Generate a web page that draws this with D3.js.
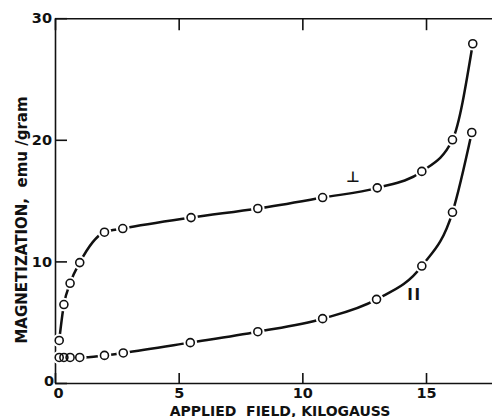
<!DOCTYPE html>
<html>
<head>
<meta charset="utf-8">
<script src="https://cdn.jsdelivr.net/npm/d3@7/dist/d3.min.js"></script>
<style>
  html, body { margin: 0; padding: 0; background: #fff; }
  svg { display: block; }
  text { font-family: "DejaVu Sans", sans-serif; fill: #111; }
</style>
</head>
<body>
<svg id="chart" width="492" height="417"></svg>
<script>
// Applied field (kilogauss)
const perpField = [0.17, 0.36, 0.61, 1.0, 2.0, 2.74, 5.5, 8.2, 10.82, 13.03, 14.83, 16.07, 16.89];
// Magnetization (emu/gram), field perpendicular
const perpMag   = [3.5, 6.45, 8.2, 9.9, 12.4, 12.7, 13.6, 14.35, 15.25, 16.05, 17.4, 20.0, 27.9];

const paraField = [0.17, 0.36, 0.61, 1.0, 2.0, 2.76, 5.47, 8.2, 10.82, 13.0, 14.83, 16.07, 16.85];
// Magnetization (emu/gram), field parallel
const paraMag   = [2.1, 2.1, 2.1, 2.1, 2.27, 2.47, 3.32, 4.22, 5.29, 6.88, 9.62, 14.04, 20.6];

const xTicks = [0, 5, 10, 15];
const yTicks = [0, 10, 20, 30];
const xTitle = "APPLIED  FIELD, KILOGAUSS";
const yTitle = "MAGNETIZATION,  emu /gram";
const perpLabel = "\u22A5";
const paraLabel = "II";

const svg = d3.select("#chart");
const x = d3.scaleLinear().domain([0, 17.7]).range([55, 492.8]);
const y = d3.scaleLinear().domain([0, 30]).range([383, 18.2]);

const axisStroke = 1.6;

// bottom axis
const gx = svg.append("g").attr("transform", `translate(0,${y(0)})`)
  .call(d3.axisBottom(x).tickValues(xTicks).tickSizeInner(-10).tickSizeOuter(0).tickPadding(5)
    .tickFormat(d3.format("d")));
// top axis
const gt = svg.append("g").attr("transform", `translate(0,${y(30)})`)
  .call(d3.axisTop(x).tickValues(xTicks).tickSizeInner(-12).tickSizeOuter(0).tickFormat(""));
// left axis
const gy = svg.append("g").attr("transform", `translate(${x(0)},0)`)
  .call(d3.axisLeft(y).tickValues(yTicks).tickSizeInner(-12).tickSizeOuter(0).tickPadding(3)
    .tickFormat(d3.format("d")));

[gx, gt, gy].forEach(g => {
  g.select(".domain").attr("stroke", "#111").attr("stroke-width", axisStroke);
  g.selectAll(".tick line").attr("stroke", "#111").attr("stroke-width", axisStroke);
  g.selectAll("text").style("font-family", '"DejaVu Sans", sans-serif')
    .style("font-size", "14.5px").style("font-weight", "bold").attr("fill", "#111");
});
gx.selectAll(".tick").filter(d => d === 0).select("text").attr("dx", 3);
gy.selectAll(".tick").filter(d => d === 0).select("text").attr("dy", "0.15em").attr("dx", 2);

// curves
const line = d3.line().x(d => x(d[0])).y(d => y(d[1])).curve(d3.curveMonotoneX);
const perp = perpField.map((f, i) => [f, perpMag[i]]);
const para = paraField.map((f, i) => [f, paraMag[i]]);

[perp, para].forEach(data => {
  svg.append("path").datum(data).attr("d", line)
    .attr("fill", "none").attr("stroke", "#111").attr("stroke-width", 2.5);
});

const allPts = perp.concat(para);
// white gaps around markers
svg.append("g").selectAll("circle").data(allPts).join("circle")
  .attr("cx", d => x(d[0])).attr("cy", d => y(d[1])).attr("r", 6.8)
  .attr("fill", "#fff");
svg.append("g").selectAll("circle").data(allPts).join("circle")
  .attr("cx", d => x(d[0])).attr("cy", d => y(d[1])).attr("r", 4)
  .attr("fill", "none").attr("stroke", "#111").attr("stroke-width", 1.6);

// curve labels
svg.append("text").attr("x", x(12.05)).attr("y", y(16.9)).attr("text-anchor", "middle")
  .attr("dominant-baseline", "central").style("opacity", 0.99)
  .style("font-size", "15px").style("font-weight", "bold").text(perpLabel);
svg.append("text").attr("x", x(14.53)).attr("y", y(7.2)).attr("text-anchor", "middle")
  .attr("dominant-baseline", "central").style("opacity", 0.99)
  .style("font-size", "15px").style("font-weight", "bold").style("letter-spacing", "1.5px")
  .text(paraLabel);

// axis titles
svg.append("text").attr("x", 280).attr("y", 415.5).attr("text-anchor", "middle")
  .style("font-size", "14px").style("font-weight", "bold").style("white-space", "pre")
  .attr("xml:space", "preserve").text(xTitle);
svg.append("text").attr("transform", "translate(26.5,220) rotate(-90)").attr("text-anchor", "middle")
  .style("font-size", "15px").style("font-weight", "bold").style("white-space", "pre")
  .attr("xml:space", "preserve").text(yTitle);
</script>
</body>
</html>
